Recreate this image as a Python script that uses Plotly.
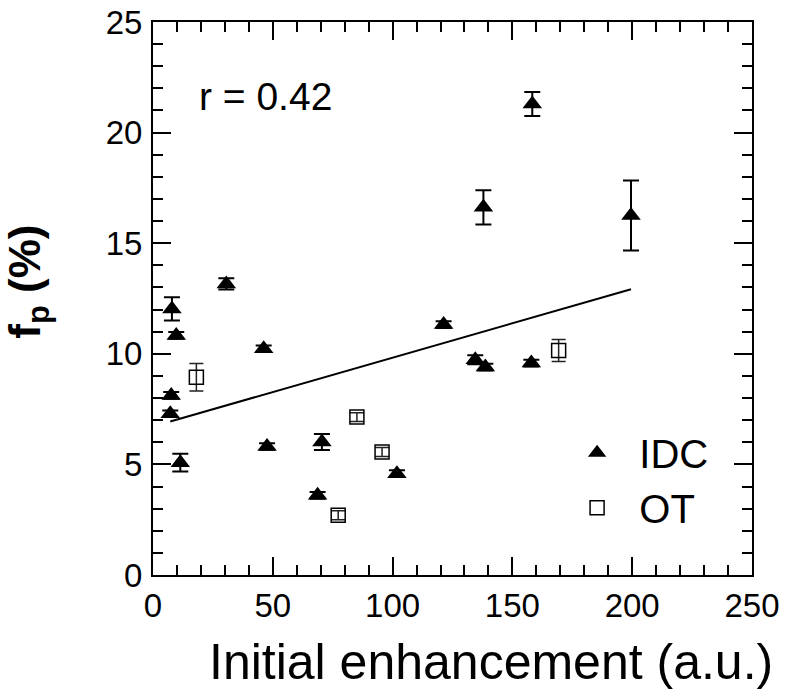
import plotly.graph_objects as go

# IDC data
idc_x = [7.6, 7.2, 7.9, 9.7, 11.4, 30.6, 46.2, 47.6, 68.7, 70.5, 101.8, 121.3, 134.5, 138.7, 137.9, 157.9, 158.3, 199.5]
idc_y = [8.12, 7.29, 12.03, 10.83, 5.08, 13.16, 10.23, 5.81, 3.60, 6.01, 4.58, 11.32, 9.73, 9.40, 16.62, 9.58, 21.29, 16.25]
idc_err = [0.15, 0.15, 0.53, 0.15, 0.4, 0.25, 0.15, 0.15, 0.15, 0.36, 0.15, 0.15, 0.2, 0.15, 0.77, 0.15, 0.54, 1.58]

# OT data
ot_x = [18.1, 77.3, 85.1, 95.6, 169.3]
ot_y = [8.94, 2.70, 7.14, 5.56, 10.15]
ot_err = [0.62, 0.2, 0.2, 0.2, 0.5]

# regression line endpoints
fit_x = [7.2, 199.5]
fit_y = [6.94, 12.92]

x_ticks = [0, 50, 100, 150, 200, 250]
y_ticks = [0, 5, 10, 15, 20, 25]

FONT = "Liberation Sans, Arial, sans-serif"

fig = go.Figure()
fig.add_trace(go.Scatter(
    x=fit_x, y=fit_y, mode="lines", line=dict(color="black", width=2),
    showlegend=False, hoverinfo="skip"))
fig.add_trace(go.Scatter(
    x=idc_x, y=idc_y, mode="markers", name="\u00a0\u00a0IDC",
    marker=dict(symbol="triangle-up", size=17, color="black", line=dict(width=0)),
    error_y=dict(type="data", array=idc_err, color="black", thickness=2, width=8)))
fig.add_trace(go.Scatter(
    x=ot_x, y=ot_y, mode="markers", name="\u00a0\u00a0OT",
    marker=dict(symbol="square-open", size=14, color="black", line=dict(width=1.5, color="#222")),
    error_y=dict(type="data", array=ot_err, color="#222", thickness=1.5, width=7)))

axis_common = dict(
    showgrid=False, zeroline=False, showline=True, linecolor="black", linewidth=2,
    mirror="allticks", ticks="inside", ticklen=18, tickwidth=2, tickcolor="black",
    tickfont=dict(family=FONT, size=33, color="black"), automargin=False,
    ticklabeloverflow="allow",
)
fig.update_xaxes(
    range=[0, 250], tickvals=x_ticks, ticktext=[str(v) for v in x_ticks],
    minor=dict(dtick=10, ticks="inside", ticklen=10, tickwidth=2, tickcolor="black"),
    ticklabelstandoff=0,
    **axis_common)
fig.update_yaxes(
    range=[0, 25], tickvals=y_ticks, ticktext=[str(v) for v in y_ticks],
    minor=dict(dtick=1, ticks="inside", ticklen=10, tickwidth=2, tickcolor="black"),
    ticklabelstandoff=2,
    **axis_common)

# axis titles as annotations (positioned like the reference)
fig.add_annotation(
    x=0.564, y=-0.158, xref="paper", yref="paper", xanchor="center", yanchor="middle",
    text="Initial enhancement (a.u.)", showarrow=False,
    font=dict(family=FONT, size=50, color="black"))
fig.add_annotation(
    x=-0.209, y=0.53, xref="paper", yref="paper", xanchor="center", yanchor="middle",
    text="<b>f<sub>p</sub> (%)</b>", showarrow=False, textangle=-90,
    font=dict(family=FONT, size=44, color="black"))

fig.add_annotation(
    x=0.074, y=0.866, xref="paper", yref="paper", xanchor="left", yanchor="middle",
    text="r = 0.42", showarrow=False, font=dict(family=FONT, size=39, color="black"))

fig.update_layout(
    width=791, height=696,
    margin=dict(l=153, r=39, t=22, b=121, autoexpand=False),
    paper_bgcolor="white", plot_bgcolor="white",
    legend=dict(x=0.708, y=0.28, xanchor="left", yanchor="top",
                font=dict(family=FONT, size=40, color="black"),
                bgcolor="rgba(0,0,0,0)", itemsizing="trace", tracegroupgap=0),
)

fig.write_html("out.html", config={"displayModeBar": False},
               post_script="document.body.style.margin='0';document.body.style.overflow='hidden';")
